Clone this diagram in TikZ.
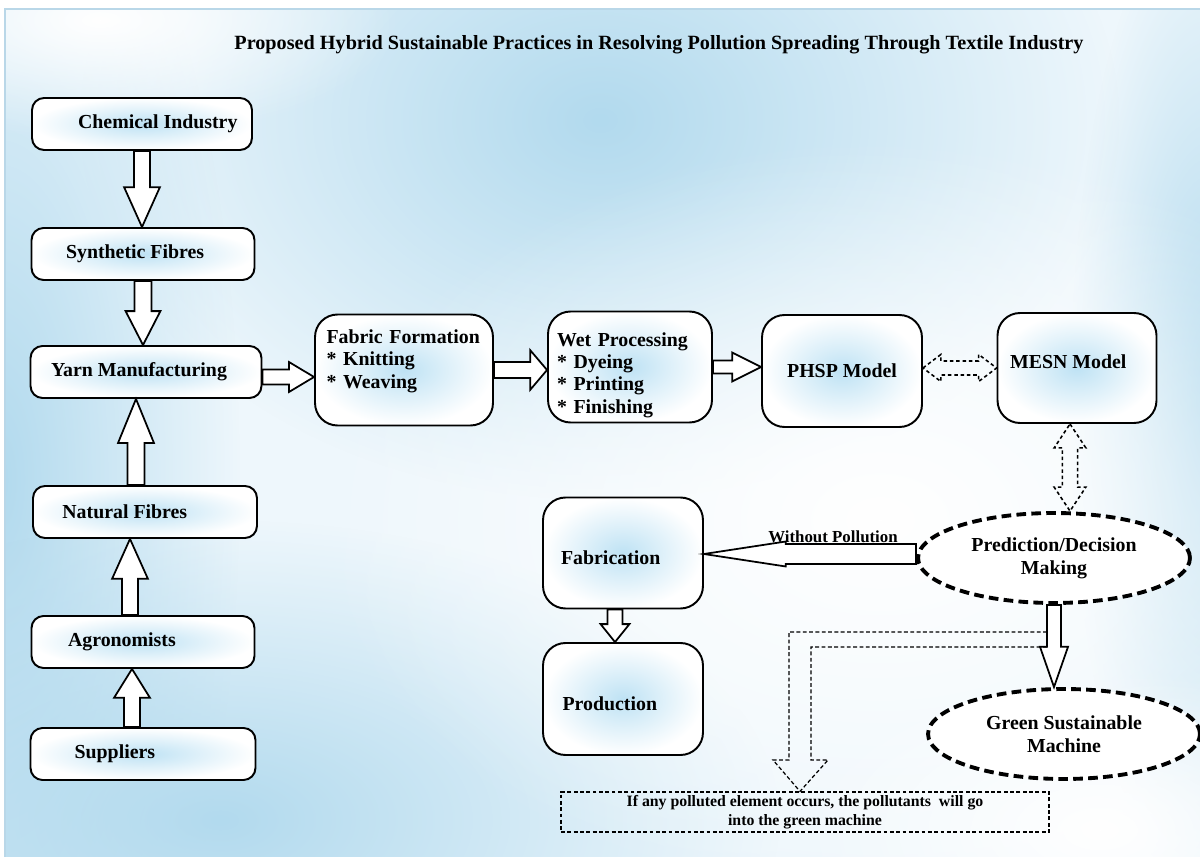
\documentclass[tikz,border=0pt]{standalone}
\usepackage{fontspec}
\setmainfont{Liberation Serif}
\usetikzlibrary{positioning, calc, shapes.geometric, fadings}

\definecolor{bgpale}{RGB}{238,247,252}
\definecolor{bgblue}{RGB}{178,218,238}
\definecolor{boxblue}{RGB}{190,226,244}
\definecolor{framegray}{RGB}{185,215,232}

\tikzfading[name=blobfade, inner color=transparent!0, outer color=transparent!100]

% hollow block arrows: #4 half shaft, #5 half head, #6 head length
\newcommand{\vblock}[6][]{%
  \draw[blockarr,#1] let \p1=(#2), \p2=(#3), \p3=($(\x1,\y2)!#6!(\x1,\y1)$) in
    (\x1-#4,\y1) -- (\x1-#4,\y3) -- (\x1-#5,\y3) -- (\x1,\y2)
    -- (\x1+#5,\y3) -- (\x1+#4,\y3) -- (\x1+#4,\y1) -- cycle;}
\newcommand{\hblock}[6][]{%
  \draw[blockarr,#1] let \p1=(#2), \p2=(#3), \p3=($(\x2,\y1)!#6!(\x1,\y1)$) in
    (\x1,\y1-#4) -- (\x3,\y1-#4) -- (\x3,\y1-#5) -- (\x2,\y1)
    -- (\x3,\y1+#5) -- (\x3,\y1+#4) -- (\x1,\y1+#4) -- cycle;}
\newcommand{\hdouble}[6][]{%
  \draw[dblarr,#1] let \p1=(#2), \p2=(#3), \p3=($(\x1,\y1)!#6!(\x2,\y1)$),
    \p4=($(\x2,\y1)!#6!(\x1,\y1)$) in
    (\x1,\y1) -- (\x3,\y1+#5) -- (\x3,\y1+#4) -- (\x4,\y1+#4) -- (\x4,\y1+#5) -- (\x2,\y1)
    -- (\x4,\y1-#5) -- (\x4,\y1-#4) -- (\x3,\y1-#4) -- (\x3,\y1-#5) -- cycle;}
\newcommand{\vdouble}[6][]{%
  \draw[dblarr,#1] let \p1=(#2), \p2=(#3), \p3=($(\x1,\y1)!#6!(\x1,\y2)$),
    \p4=($(\x1,\y2)!#6!(\x1,\y1)$) in
    (\x1,\y1) -- (\x1+#5,\y3) -- (\x1+#4,\y3) -- (\x1+#4,\y4) -- (\x1+#5,\y4) -- (\x1,\y2)
    -- (\x1-#5,\y4) -- (\x1-#4,\y4) -- (\x1-#4,\y3) -- (\x1-#5,\y3) -- cycle;}

\begin{document}
\begin{tikzpicture}[
  x=0.02cm, y=-0.02cm,
  box/.style={draw, line width=1.1pt, rounded corners=0.24cm, inner color=boxblue,
              outer color=white, minimum width=4.4cm, minimum height=1.04cm,
              inner sep=0pt, font=\fontsize{11.3}{12.7}\selectfont\bfseries},
  bigbox/.style={box, rounded corners=0.45cm, minimum width=3.2cm, minimum height=2.22cm},
  dashell/.style={ellipse, draw, line width=2.2pt, dash pattern=on 5.5pt off 3pt,
              fill=white, minimum width=5.44cm, minimum height=1.8cm, inner sep=0pt,
              align=center, font=\fontsize{11.3}{13}\selectfont\bfseries},
  thindash/.style={draw, line width=0.7pt, dash pattern=on 2.2pt off 1.4pt},
  blockarr/.style={draw, line width=1pt, fill=white},
  dblarr/.style={draw, line width=0.9pt, dash pattern=on 2pt off 1.6pt},
]
  \useasboundingbox (0,0) rectangle (1200,857);

  % background
  \fill[white] (0,0) rectangle (1200,857);
  \begin{scope}
    \clip (5,9) rectangle (1200,857);
    \fill[bgpale] (5,9) rectangle (1200,857);
    \fill[bgblue, path fading=blobfade] (600,120) ellipse (520 and 380);
    \fill[bgblue, path fading=blobfade] (0,480) ellipse (240 and 700);
    \fill[bgblue, path fading=blobfade] (220,820) ellipse (560 and 300);
    \fill[bgblue, path fading=blobfade] (1210,400) ellipse (140 and 500);
    \fill[white, path fading=blobfade] (880,520) ellipse (560 and 380);
    \fill[white, path fading=blobfade] (100,20) ellipse (300 and 120);
    \fill[white, path fading=blobfade] (1100,830) ellipse (300 and 160);
  \end{scope}
  \draw[framegray, line width=0.6pt] (5,857) -- (5,9) -- (1200,9);

  \node[font=\fontsize{11.5}{13}\selectfont\bfseries] (title) at (659,45)
    {Proposed Hybrid Sustainable Practices in Resolving Pollution Spreading Through Textile Industry};

  % supply column
  \node[box] (chem) at (142,124) {\hspace*{18pt}Chemical Industry};
  \node[box, minimum width=4.46cm] (syn) at (143,254) {\hspace*{-9pt}Synthetic Fibres};
  \node[box, minimum width=4.62cm] (yarn) at (146,372) {\hspace*{-8pt}Yarn Manufacturing};
  \node[box, minimum width=4.48cm] (nat) at (145,512) {\hspace*{-23pt}Natural Fibres};
  \node[box, minimum width=4.46cm] (agro) at (143,642) {\hspace*{-24pt}Agronomists};
  \node[box, minimum width=4.5cm] (supp) at (143,754) {\hspace*{-32pt}Suppliers};

  \vblock{chem.south}{syn.north}{4.5pt}{10.2pt}{22.7pt}
  \vblock{syn.south}{yarn.north}{4.8pt}{9.9pt}{19.3pt}
  \vblock{$(nat.north)+(-9,0)$}{yarn.south}{4.8pt}{10.2pt}{25pt}
  \vblock{$(agro.north)+(-13,0)$}{nat.south}{4.5pt}{10.2pt}{22.7pt}
  \vblock{$(supp.north)+(-11,0)$}{agro.south}{4.5pt}{10.2pt}{16.4pt}

  % processing row
  \node[bigbox, minimum width=3.56cm, text width=3.1cm, align=left] (fabric) at (404,370)
    {Fabric Formation\\{*} Knitting\\{*} Weaving\\\mbox{}};
  \node[bigbox, minimum width=3.28cm, text width=2.92cm, align=left] (wet) at (630,367)
    {\rule{0pt}{17pt}Wet Processing\\{*} Dyeing\\{*} Printing\\{*} Finishing};
  \node[bigbox, minimum height=2.24cm] (phsp) at (842,371) {PHSP Model};
  \node[bigbox, minimum width=3.18cm, minimum height=2.2cm] (mesn) at (1077,368)
    {\hspace*{-10pt}\rule[-7pt]{0pt}{1pt}MESN Model};

  \hblock{$(yarn.east)+(0,5)$}{fabric.west}{4.3pt}{8.5pt}{14.2pt}
  \hblock{fabric.east}{wet.west}{4.5pt}{11.3pt}{9.6pt}
  \hblock{wet.east}{phsp.west}{3.7pt}{8.2pt}{16.4pt}
  \hdouble{$(phsp.east)+(0,-3)$}{mesn.west}{4pt}{7.7pt}{10.2pt}

  % decision part
  \node[dashell] (pred) at (1054,558) {Prediction/Decision\\Making};
  \node[dashell] (green) at (1064,734) {Green Sustainable\\Machine};
  \node[bigbox] (fab) at (623,553) {\hspace*{-14pt}\rule{0pt}{13.5pt}Fabrication};
  \node[bigbox, minimum height=2.24cm] (prod) at (623,699)
    {\hspace*{-15pt}\rule{0pt}{13.5pt}Production};
  \node[thindash, minimum width=9.76cm, minimum height=0.8cm, inner sep=0pt, align=center,
        font=\fontsize{9}{10.8}\selectfont\bfseries] (note) at (805,812)
    {If any polluted element occurs, the pollutants\ \ will go\\into the green machine};

  \vdouble{$(mesn.south)+(-7,0)$}{pred.north}{4.3pt}{9pt}{13.6pt}
  \vblock{pred.south}{green.north}{4pt}{8pt}{23pt}
  \hblock{$(pred.west)+(0,-4)$}{fab.east}{5.7pt}{7.1pt}{46.5pt}
  \vblock{$(fab.south)+(-8,0)$}{prod.north}{4.3pt}{8.2pt}{10.2pt}
  \node[font=\fontsize{9.6}{11}\selectfont\bfseries] (wolbl) at (833,537) {Without Pollution};

  % polluted branch
  \coordinate (lout) at ($(pred.south)+(-7,27)$);
  \coordinate (lin) at ($(pred.south)+(-7,42)$);
  \draw[thindash] (lout) -| (789,760) -- (773,760) -- ($(note.north)+(-5,0)$) -- (828,760)
    -- (811,760) |- (lin);
\end{tikzpicture}
\end{document}
